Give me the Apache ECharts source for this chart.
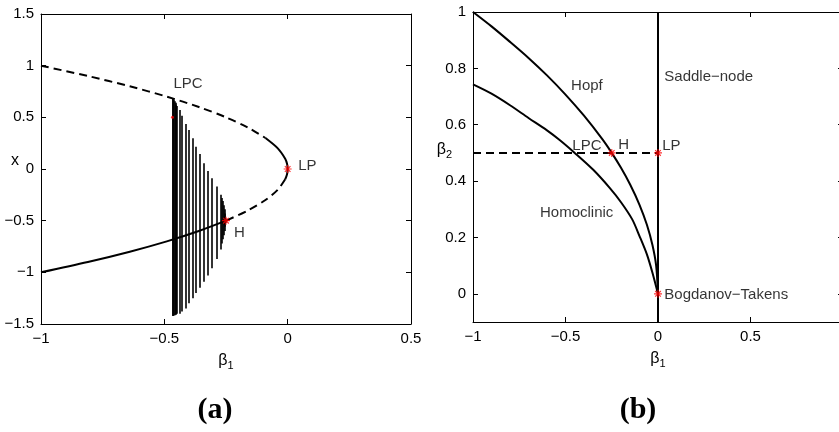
<!DOCTYPE html>
<html>
<head>
<meta charset="utf-8">
<script src="https://cdn.jsdelivr.net/npm/echarts@6/dist/echarts.min.js"></script>
<style>
  html, body { margin: 0; padding: 0; background: #fff; }
  #myChart { width: 839px; height: 432px; }
</style>
</head>
<body>
<div id="myChart"></div>
<script>
  // ---- panel (a): equilibrium curve x vs beta1 (beta2 = 0.5)
  const eqX  = [1, 0.9, 0.8, 0.7, 0.6, 0.5, 0.4, 0.3, 0.2, 0.1, 0.05, 0, -0.05, -0.1, -0.2, -0.3, -0.4, -0.5, -0.6, -0.7, -0.8, -0.9, -1]
  const eqB1 = [-1, -0.81, -0.64, -0.49, -0.36, -0.25, -0.16, -0.09, -0.04, -0.01, -0.0025, 0, -0.0025, -0.01, -0.04, -0.09, -0.16, -0.25, -0.36, -0.49, -0.64, -0.81, -1]

  // limit cycle family: beta1, max x, min x
  const cycB1  = [-0.467, -0.464, -0.461, -0.458, -0.455, -0.452, -0.449, -0.439, -0.428, -0.415, -0.400, -0.385, -0.371, -0.357, -0.340, -0.324, -0.306, -0.289, -0.272, -0.266, -0.263, -0.260, -0.257, -0.254, -0.251]
  const cycMax = [0.687, 0.68, 0.67, 0.655, 0.64, 0.625, 0.61, 0.571, 0.516, 0.436, 0.378, 0.297, 0.216, 0.145, 0.055, -0.02, -0.09, -0.17, -0.25, -0.28, -0.31, -0.35, -0.39, -0.43, -0.48]
  const cycMin = [-1.423, -1.42, -1.418, -1.415, -1.41, -1.405, -1.40, -1.40, -1.38, -1.35, -1.30, -1.25, -1.20, -1.15, -1.09, -1.03, -0.96, -0.87, -0.78, -0.72, -0.68, -0.64, -0.60, -0.56, -0.52]

  const ptsA = [[0, 0], [-0.25, -0.5]]        // LP, H
  const lpcDotA = [[-0.467, 0.5]]

  // ---- panel (b): two-parameter curves
  const hopfB1 = [-1, -0.9, -0.8, -0.7, -0.6, -0.5, -0.4, -0.3, -0.25, -0.2, -0.15, -0.1, -0.06, -0.03, -0.01, 0]
  const hopfB2 = [1, 0.949, 0.894, 0.837, 0.775, 0.707, 0.632, 0.548, 0.5, 0.447, 0.387, 0.316, 0.245, 0.173, 0.1, 0]
  const homB1 = [-1, -0.9, -0.8, -0.7, -0.6, -0.53, -0.45, -0.35, -0.26, -0.2, -0.14, -0.1, -0.06, -0.03, 0]
  const homB2 = [0.743, 0.71, 0.669, 0.624, 0.58, 0.545, 0.50, 0.44, 0.375, 0.325, 0.265, 0.205, 0.14, 0.075, 0]
  const saddleNode = [[0, -0.1], [0, 1]]
  const cutB2 = [[-1, 0.5], [0, 0.5]]
  const ptsB = [[-0.25, 0.5], [0, 0.5], [0, 0]]   // H, LP, BT

  // text annotations [text, beta1, value]
  const annotA = [['LPC', -0.463, 0.82], ['LP', 0.043, 0.03], ['H', -0.218, -0.617]]
  const annotB = [['Hopf', -0.47, 0.738], ['Saddle\u2212node', 0.034, 0.771], ['LPC', -0.463, 0.525],
                  ['H', -0.215, 0.528], ['LP', 0.023, 0.525], ['Homoclinic', -0.638, 0.288],
                  ['Bogdanov\u2212Takens', 0.034, -0.004]]

  const FONT = 'Liberation Sans'
  const star = 'path://M-1,-0.15L1,-0.15L1,0.15L-1,0.15Z M-0.15,-1L0.15,-1L0.15,1L-0.15,1Z M-0.594,-0.806L0.806,0.594L0.594,0.806L-0.806,-0.594Z M-0.806,0.594L0.594,-0.806L0.806,-0.594L-0.594,0.806Z'

  const fmt = v => String(v).replace('-', '\u2212')

  function axis(grid, pos, min, max, interval, labels, extra) {
    let a = {
      type: 'value', gridIndex: grid, position: pos, min: min, max: max, interval: interval,
      nameMoveOverlap: false,
      axisLine: { show: true, onZero: false, lineStyle: { color: '#000', width: 1 } },
      axisTick: { show: true, inside: true, length: 5, lineStyle: { color: '#000' } },
      splitLine: { show: false },
      axisLabel: { show: labels, color: '#000', fontSize: 15, fontFamily: FONT, margin: 7, formatter: fmt }
    }
    return Object.assign(a, extra || {})
  }

  const betaName = (sub, pad) => ({
    name: '{b|\u03b2}{s|' + sub + '}',
    nameLocation: 'middle',
    nameRotate: 0,
    nameTextStyle: {
      padding: pad,
      rich: {
        b: { fontSize: 16, fontFamily: FONT, color: '#000' },
        s: { fontSize: 11, fontFamily: FONT, color: '#000', padding: [10, 0, 0, 0] }
      }
    }
  })

  const pair = (xs, ys) => xs.map((x, i) => [x, ys[i]])
  const eqPairs = pair(eqB1, eqX)
  const cycles = cycB1.map((b, i) => ({ coords: [[b, cycMax[i]], [b, cycMin[i]]] }))

  function curve(xi, data, dashed, smooth) {
    return {
      type: 'line', xAxisIndex: xi, yAxisIndex: xi, data: data, showSymbol: false, symbol: 'none',
      smooth: smooth ? 0.3 : false, silent: true,
      lineStyle: { color: '#000', width: 2, type: dashed ? [8, 5] : 'solid' }
    }
  }
  function stars(xi, data) {
    return { type: 'scatter', xAxisIndex: xi, yAxisIndex: xi, data: data, symbol: star, symbolSize: 8,
      itemStyle: { color: '#ff0000' }, z: 5, silent: true }
  }
  function texts(xi, list) {
    return { type: 'scatter', xAxisIndex: xi, yAxisIndex: xi, symbolSize: 0, silent: true, z: 6,
      data: list.map(t => ({ name: t[0], value: [t[1], t[2]] })),
      label: { show: true, position: 'right', distance: 0, formatter: '{b}', color: '#000', fontSize: 15, fontFamily: FONT } }
  }

  let myChart = echarts.init(document.getElementById('myChart'))
  myChart.setOption({
    animation: false,
    backgroundColor: '#fff',
    grid: [
      { left: 41, top: 14, width: 370, height: 310, outerBoundsMode: 'none' },
      { left: 473, top: 12, width: 370, height: 310, outerBoundsMode: 'none' }
    ],
    xAxis: [
      axis(0, 'bottom', -1, 0.5, 0.5, true, Object.assign(betaName('1', [0, 0, 0, 0]), { nameGap: 26 })),
      axis(0, 'top', -1, 0.5, 0.5, false),
      axis(1, 'bottom', -1, 1, 0.5, true, Object.assign(betaName('1', [0, 0, 0, 0]), { nameGap: 26 })),
      axis(1, 'top', -1, 1, 0.5, false)
    ],
    yAxis: [
      axis(0, 'left', -1.5, 1.5, 0.5, true, {
        name: 'x', nameLocation: 'middle', nameRotate: 0, nameGap: 22,
        nameTextStyle: { color: '#000', fontSize: 16, fontFamily: FONT, verticalAlign: 'bottom' }
      }),
      axis(0, 'right', -1.5, 1.5, 0.5, false),
      (function () {
        let a = axis(1, 'left', -0.1, 1, null, true, Object.assign(betaName('2', [0, 0, 34, 0]), { nameGap: 21 }))
        delete a.interval
        a.axisLabel.customValues = [0, 0.2, 0.4, 0.6, 0.8, 1]
        a.axisTick.customValues = [0, 0.2, 0.4, 0.6, 0.8, 1]
        return a
      })(),
      (function () {
        let a = axis(1, 'right', -0.1, 1, null, false)
        delete a.interval
        a.axisTick.customValues = [0, 0.2, 0.4, 0.6, 0.8, 1]
        return a
      })()
    ],
    graphic: [
      { type: 'text', x: 215, y: 410, style: { text: '(a)', align: 'center', verticalAlign: 'middle', textAlign: 'center', textVerticalAlign: 'middle', font: 'bold 30px "Liberation Serif"', fill: '#000' } },
      { type: 'text', x: 638, y: 410, style: { text: '(b)', align: 'center', verticalAlign: 'middle', textAlign: 'center', textVerticalAlign: 'middle', font: 'bold 30px "Liberation Serif"', fill: '#000' } }
    ],
    series: [
      // (a)
      curve(0, eqPairs.slice(0, 8), true, true),
      curve(0, eqPairs.slice(7, 14), false, true),
      curve(0, eqPairs.slice(13, 18), true, true),
      curve(0, eqPairs.slice(17), false, true),
      {
        type: 'lines', coordinateSystem: 'cartesian2d', xAxisIndex: 0, yAxisIndex: 0, data: cycles, silent: true,
        lineStyle: { color: '#000', width: 1.6, opacity: 1 }
      },
      stars(0, ptsA),
      { type: 'scatter', xAxisIndex: 0, yAxisIndex: 0, data: lpcDotA, symbolSize: 3, itemStyle: { color: '#ff0000' }, z: 5, silent: true },
      texts(0, annotA),
      // (b)
      curve(2, cutB2, true, false),
      curve(2, saddleNode, false, false),
      curve(2, pair(hopfB1, hopfB2), false, true),
      curve(2, pair(homB1, homB2), false, true),
      stars(2, ptsB),
      texts(2, annotB)
    ]
  })
</script>
</body>
</html>
